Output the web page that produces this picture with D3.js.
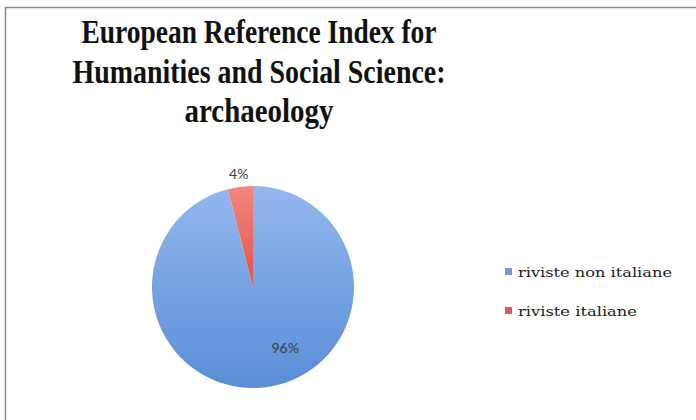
<!DOCTYPE html>
<html><head><meta charset="utf-8">
<script src="https://cdn.jsdelivr.net/npm/d3@7"></script>
<style>html,body{margin:0;padding:0;background:#fff;}svg{display:block;}</style>
</head><body>
<svg id="chart" width="696" height="420"></svg>
<script>
const titleLines = ["European Reference Index for", "Humanities and Social Science:", "archaeology"];
const categories = ["riviste non italiane", "riviste italiane"];
const values = [96, 4];
const pctLabels = ["96%", "4%"];
const colors = ["#6f9ce0", "#e05a5a"];

const svg = d3.select("#chart");
// frame lines
svg.append("line").attr("x1",5).attr("x2",696).attr("y1",7.5).attr("y2",7.5).attr("stroke","#8a8a8a").attr("stroke-width",1.5);
svg.append("line").attr("x1",5.5).attr("x2",5.5).attr("y1",7).attr("y2",420).attr("stroke","#8a8a8a").attr("stroke-width",1.5);

const cx = 253, cy = 287, r = 101;
const defs = svg.append("defs");
const gb = defs.append("linearGradient").attr("id","gBlue").attr("gradientUnits","userSpaceOnUse")
  .attr("x1",0).attr("y1",-r).attr("x2",0).attr("y2",r);
gb.append("stop").attr("offset","0%").attr("stop-color","#93b8ec");
gb.append("stop").attr("offset","100%").attr("stop-color","#5a8dd8");
const gr = defs.append("linearGradient").attr("id","gRed").attr("gradientUnits","userSpaceOnUse")
  .attr("x1",0).attr("y1",-r).attr("x2",0).attr("y2",0);
gr.append("stop").attr("offset","0%").attr("stop-color","#f4877f");
gr.append("stop").attr("offset","100%").attr("stop-color","#e0524c");
const fills = ["url(#gBlue)", "url(#gRed)"];

// title
const titleWidths = [355, 373, 149];
const titleY = [43, 83, 122];
svg.append("g").selectAll("text").data(titleLines).join("text")
  .attr("x", 259).attr("y", (d,i)=>titleY[i])
  .attr("text-anchor","middle")
  .attr("font-family","Liberation Serif, serif").attr("font-weight","bold")
  .attr("font-size", 34).attr("fill","#111")
  .attr("textLength",(d,i)=>titleWidths[i]).attr("lengthAdjust","spacingAndGlyphs")
  .text(d=>d);

// pie
const pie = d3.pie().sort(null).value(d=>d)(values);
const arc = d3.arc().innerRadius(0).outerRadius(r);
const g = svg.append("g").attr("transform",`translate(${cx},${cy})`);
g.selectAll("path").data(pie).join("path")
  .attr("d", arc).attr("fill",(d,i)=>fills[i]).attr("stroke","none");

// labels
const labelArc = d3.arc().innerRadius(r*0.68).outerRadius(r*0.68);
const outerArc = d3.arc().innerRadius(r*1.13).outerRadius(r*1.13);
g.selectAll("text.lbl").data(pie).join("text")
  .attr("class","lbl")
  .attr("transform",(d,i)=>{
    if (i===0) {
      const a = d.startAngle + (d.endAngle - d.startAngle) * 0.44;
      const c = labelArc.centroid({startAngle:a, endAngle:a});
      return `translate(${c[0]},${c[1]})`;
    }
    const c = outerArc.centroid(d);
    return `translate(${c[0]},${c[1]})`;
  })
  .attr("dy","0.35em")
  .attr("text-anchor","middle")
  .attr("font-family","Lato, sans-serif").attr("font-size",14)
  .attr("fill","#404040")
  .text((d,i)=>pctLabels[i]);

// legend
const legY = [277, 316];
const leg = svg.append("g");
leg.selectAll("rect").data(categories).join("rect")
  .attr("x",505).attr("y",(d,i)=>legY[i]-9).attr("width",7).attr("height",7)
  .attr("fill",(d,i)=>colors[i]);
const legW = [154, 119];
leg.selectAll("text").data(categories).join("text")
  .attr("x",518).attr("y",(d,i)=>legY[i])
  .attr("font-family","DejaVu Serif, serif").attr("font-size",13).attr("fill","#222")
  .attr("textLength",(d,i)=>legW[i]).attr("lengthAdjust","spacingAndGlyphs")
  .text(d=>d);
</script>
</body></html>
